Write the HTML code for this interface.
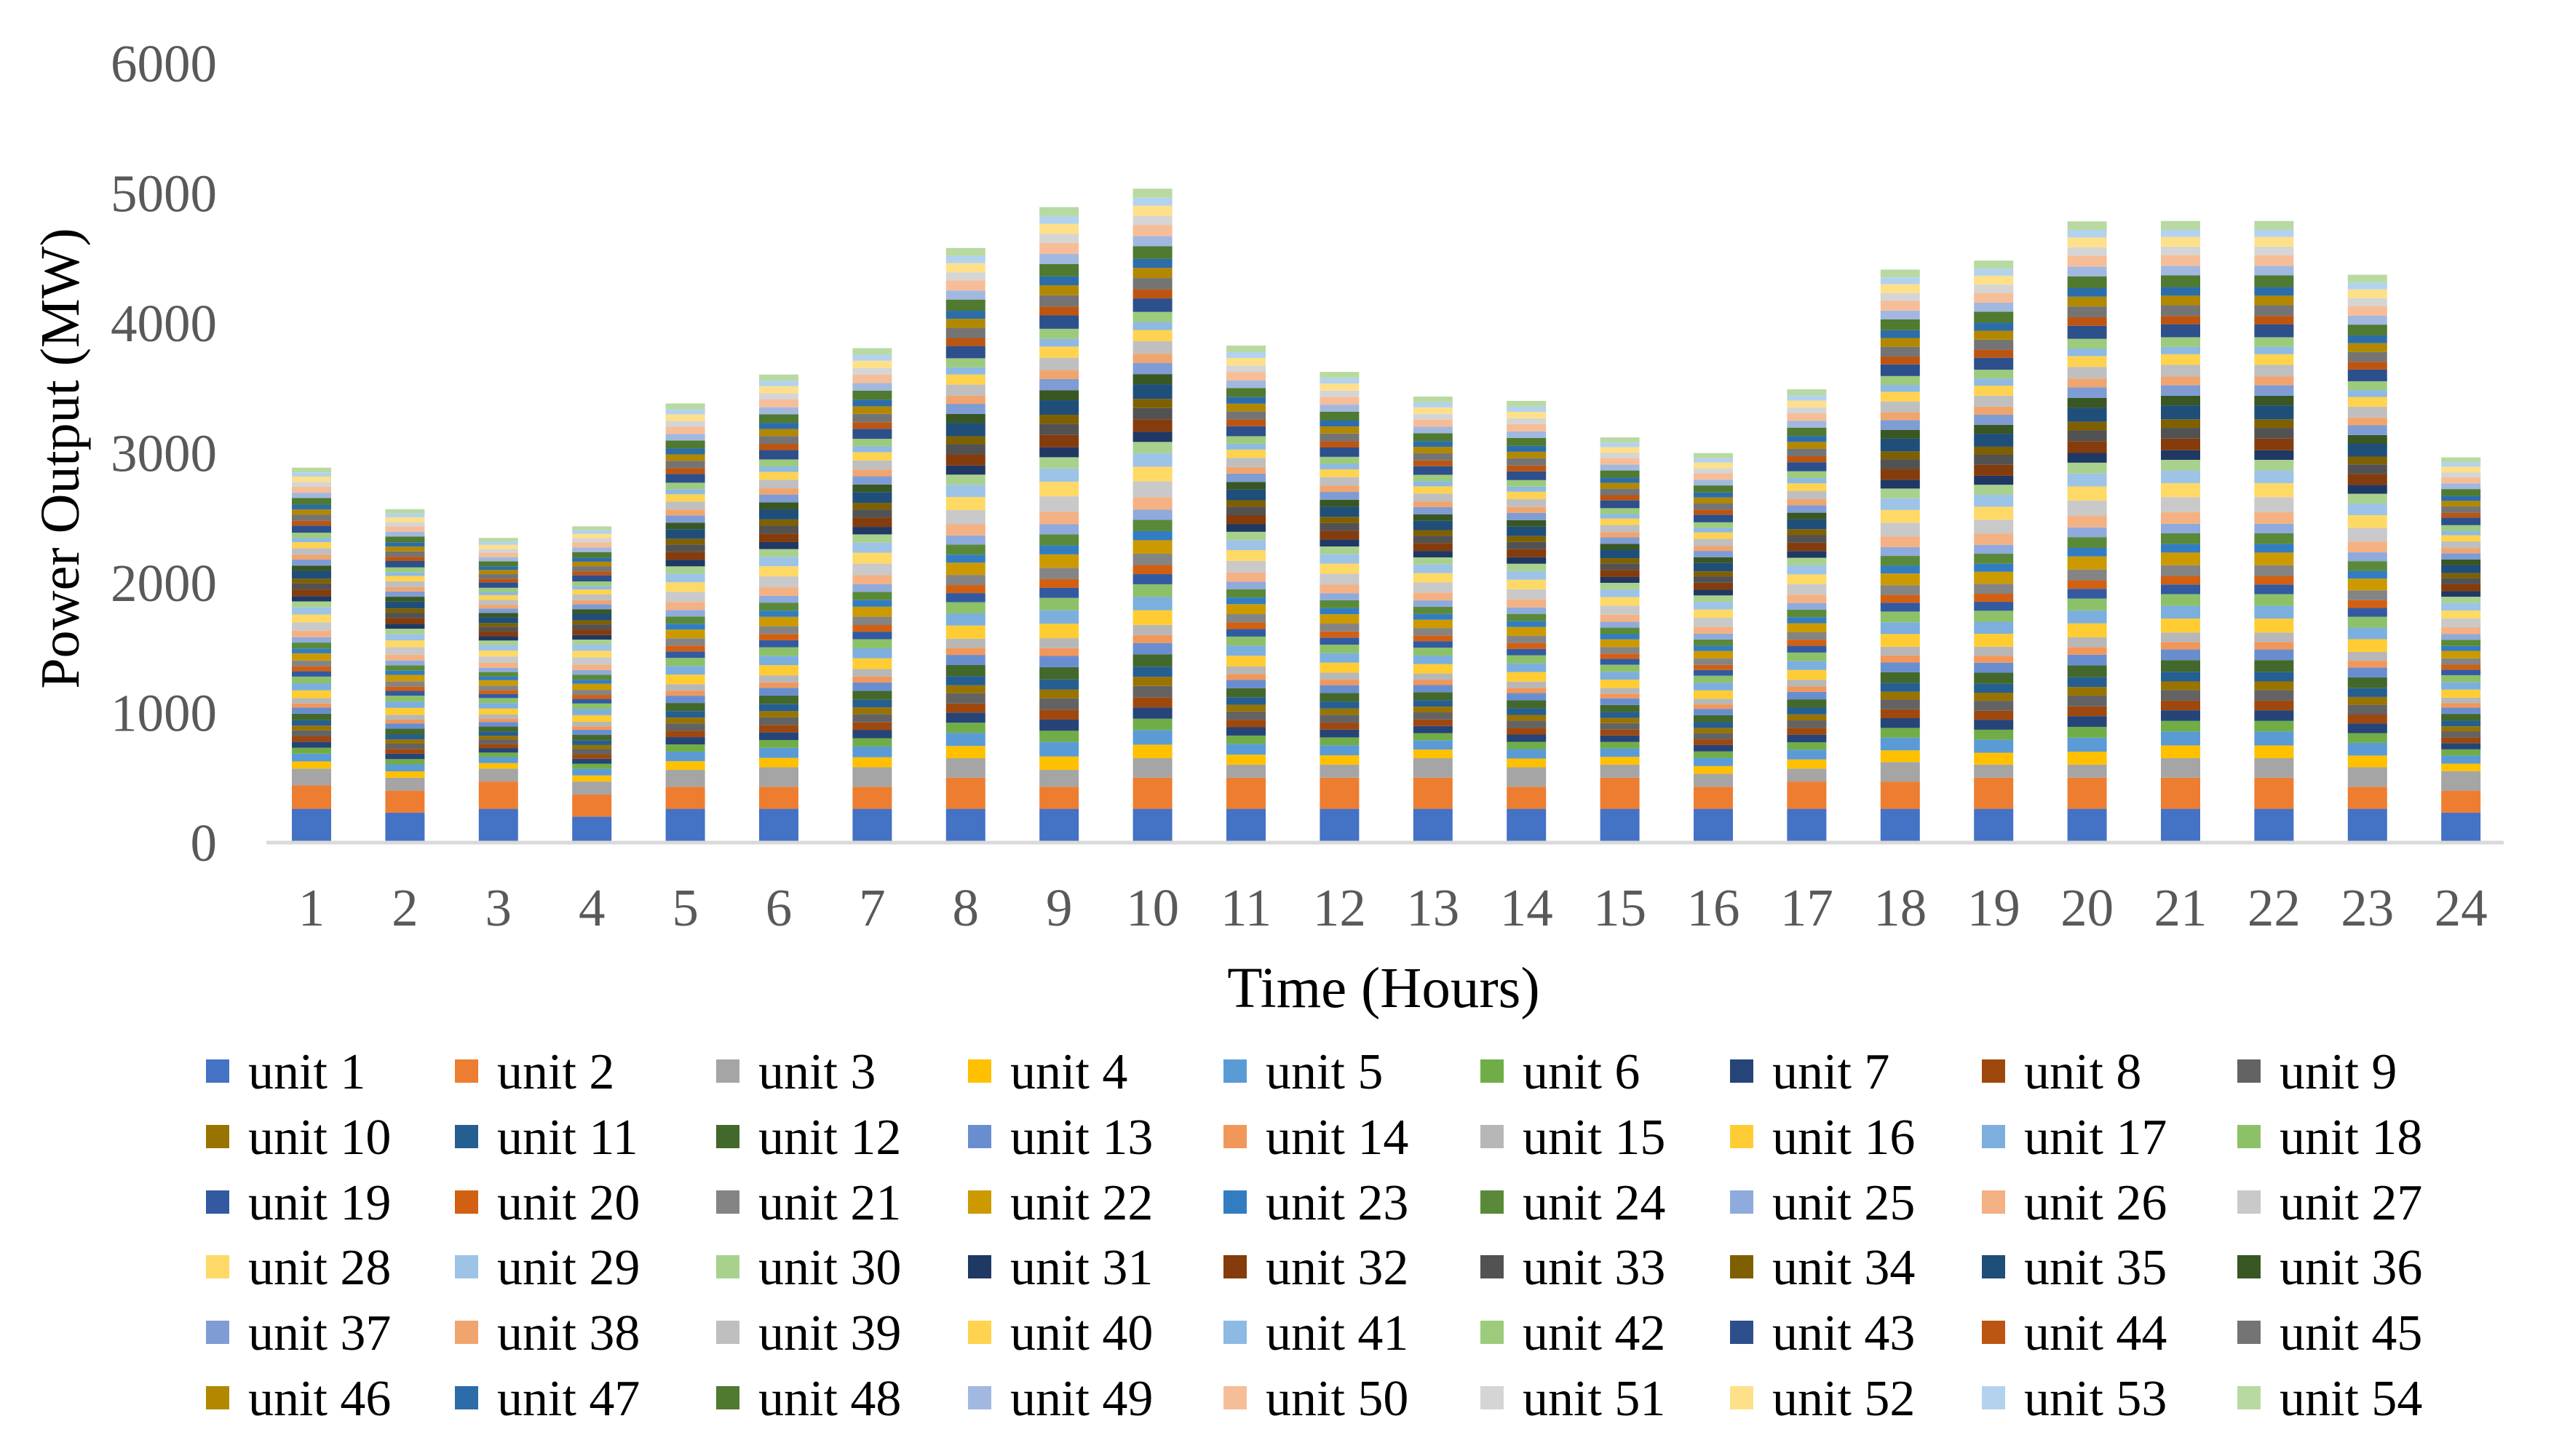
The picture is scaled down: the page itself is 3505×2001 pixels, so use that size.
<!DOCTYPE html>
<html><head><meta charset="utf-8"><style>
html,body{margin:0;padding:0;background:#fff;}
svg{display:block;}
text{font-family:"Liberation Serif",serif;}
</style></head><body>
<svg id="chart" width="3505" height="2001" viewBox="0 0 3505 2001" xmlns="http://www.w3.org/2000/svg">
<g id="yticks"></g>
<g id="bars"></g>
<line x1="366" y1="1158" x2="3440" y2="1158" stroke="#D9D9D9" stroke-width="5"/>
<g id="xticks"></g>
<text x="0" y="0" transform="translate(108,630) rotate(-90)" text-anchor="middle" font-size="76" fill="#000">Power Output (MW)</text>
<text x="1901" y="1384" text-anchor="middle" font-size="79" fill="#000">Time (Hours)</text>
<g id="legend"></g>
</svg>
<script>
const hours = ["1","2","3","4","5","6","7","8","9","10","11","12","13","14","15","16","17","18","19","20","21","22","23","24"];
const yTicks = [0,1000,2000,3000,4000,5000,6000];
const unitNames = Array.from({length:54},(_,i)=>"unit "+(i+1));
const unitColors = ["#4472C4","#ED7D31","#A5A5A5","#FFC000","#5B9BD5","#70AD47","#264478","#9E480E","#636363","#997300","#255E91","#43682B","#698ED0","#F1975A","#B7B7B7","#FFCD33","#7CAFDD","#8CC168","#335AA1","#D26012","#848484","#CC9A00","#327DC2","#5A8A39","#8FAADC","#F4B183","#C9C9C9","#FFD966","#9DC3E6","#A9D18E","#203864","#843C0C","#525252","#7F6000","#1F4E79","#385723","#7F9CD4","#F0A56E","#BFBFBF","#FFD34F","#8DB9E2","#9CCB7C","#2D4F8C","#BC5511","#747474","#B28800","#2C6DA9","#4F7A30","#A2B8E0","#F6BE98","#D5D5D5","#FFE08A","#B3D2EE","#B8DAA2"];
const h1=[260,180,130,55,60,46,46,41,46,37,41,51,46,32,41,60,55,51,41,37,46,55,37,46,41,51,64,60,55,46,41,51,46,37,60,41,46,37,51,46,32,41,55,37,46,41,37,51,41,46,37,41,32,37];
const h2=[230,170,100,49,53,41,41,37,41,33,37,45,41,29,37,53,49,45,37,33,41,49,33,41,37,45,57,53,49,41,37,45,41,33,53,37,41,33,45,41,29,37,49,33,41,37,33,45,37,41,33,37,29,33];
const h3=[260,210,100,42,46,35,35,32,35,28,32,39,35,25,32,46,42,39,32,28,35,42,28,35,32,39,49,46,42,35,32,39,35,28,46,32,35,28,39,35,25,32,42,28,35,32,28,39,32,35,28,32,25,28];
const h4=[200,170,100,47,51,39,39,35,39,31,35,43,39,27,35,51,47,43,35,31,39,47,31,39,35,43,55,51,47,39,35,43,39,31,51,35,39,31,43,39,27,35,47,31,39,35,31,43,35,39,31,35,27,31];
const h5=[260,170,130,67,73,56,56,50,56,45,50,62,56,39,50,73,67,62,50,45,56,67,45,56,50,62,78,73,67,56,50,62,56,45,73,50,56,45,62,56,39,50,67,45,56,50,45,62,50,56,45,50,39,45];
const h6=[260,170,150,72,78,60,60,54,60,48,54,66,60,42,54,78,72,66,54,48,60,72,48,60,54,66,84,78,72,60,54,66,60,48,78,54,60,48,66,60,42,54,72,48,60,54,48,66,54,60,48,54,42,48];
const h7=[260,170,150,77,83,64,64,58,64,51,58,70,64,45,58,83,77,70,58,51,64,77,51,64,58,70,90,83,77,64,58,70,64,51,83,58,64,51,70,64,45,58,77,51,64,58,51,70,58,64,51,58,45,51];
const h8=[260,240,150,94,101,78,78,70,78,62,70,86,78,55,70,101,94,86,70,62,78,94,62,78,70,86,109,101,94,78,70,86,78,62,101,70,78,62,86,78,55,70,94,62,78,70,62,86,70,78,62,70,55,62];
const h9=[260,170,130,103,112,86,86,77,86,69,77,95,86,60,77,112,103,95,77,69,86,103,69,86,77,95,120,112,103,86,77,95,86,69,112,77,86,69,95,86,60,77,103,69,86,77,69,95,77,86,69,77,60,69];
const h10=[260,240,150,104,113,87,87,78,87,70,78,96,87,61,78,113,104,96,78,70,87,104,70,87,78,96,122,113,104,87,78,96,87,70,113,78,87,70,96,87,61,78,104,70,87,78,70,96,78,87,70,78,61,70];
const h11=[260,240,100,77,83,64,64,58,64,51,58,70,64,45,58,83,77,70,58,51,64,77,51,64,58,70,90,83,77,64,58,70,64,51,83,58,64,51,70,64,45,58,77,51,64,58,51,70,58,64,51,58,45,51];
const h12=[260,240,100,72,78,60,60,54,60,48,54,66,60,42,54,78,72,66,54,48,60,72,48,60,54,66,84,78,72,60,54,66,60,48,78,54,60,48,66,60,42,54,72,48,60,54,48,66,54,60,48,54,42,48];
const h13=[260,240,150,66,72,55,55,50,55,44,50,61,55,39,50,72,66,61,50,44,55,66,44,55,50,61,77,72,66,55,50,61,55,44,72,50,55,44,61,55,39,50,66,44,55,50,44,61,50,55,44,50,39,44];
const h14=[260,170,150,67,73,56,56,50,56,45,50,62,56,39,50,73,67,62,50,45,56,67,45,56,50,62,78,73,67,56,50,62,56,45,73,50,56,45,62,56,39,50,67,45,56,50,45,62,50,56,45,50,39,45];
const h15=[260,240,100,60,65,50,50,45,50,40,45,55,50,35,45,65,60,55,45,40,50,60,40,50,45,55,70,65,60,50,45,55,50,40,65,45,50,40,55,50,35,45,60,40,50,45,40,55,45,50,40,45,35,40];
const h16=[260,170,100,59,64,49,49,44,49,39,44,54,49,34,44,64,59,54,44,39,49,59,39,49,44,54,69,64,59,49,44,54,49,39,64,44,49,39,54,49,34,44,59,39,49,44,39,54,44,49,39,44,34,39];
const h17=[260,210,100,70,75,58,58,52,58,46,52,64,58,41,52,75,70,64,52,46,58,70,46,58,52,64,81,75,70,58,52,64,58,46,75,52,58,46,64,58,41,52,70,46,58,52,46,64,52,58,46,52,41,46];
const h18=[260,210,150,90,98,75,75,68,75,60,68,83,75,53,68,98,90,83,68,60,75,90,60,75,68,83,105,98,90,75,68,83,75,60,98,68,75,60,83,75,53,68,90,60,75,68,60,83,68,75,60,68,53,60];
const h19=[260,240,100,92,100,77,77,69,77,62,69,85,77,54,69,100,92,85,69,62,77,92,62,77,69,85,108,100,92,77,69,85,77,62,100,69,77,62,85,77,54,69,92,62,77,69,62,85,69,77,62,69,54,62];
const h20=[260,240,100,100,108,83,83,75,83,66,75,91,83,58,75,108,100,91,75,66,83,100,66,83,75,91,116,108,100,83,75,91,83,66,108,75,83,66,91,83,58,75,100,66,83,75,66,91,75,83,66,75,58,66];
const h21=[260,240,150,98,107,82,82,74,82,66,74,90,82,57,74,107,98,90,74,66,82,98,66,82,74,90,115,107,98,82,74,90,82,66,107,74,82,66,90,82,57,74,98,66,82,74,66,90,74,82,66,74,57,66];
const h22=[260,240,150,98,107,82,82,74,82,66,74,90,82,57,74,107,98,90,74,66,82,98,66,82,74,90,115,107,98,82,74,90,82,66,107,74,82,66,90,82,57,74,98,66,82,74,66,90,74,82,66,74,57,66];
const h23=[260,170,150,90,98,75,75,68,75,60,68,83,75,53,68,98,90,83,68,60,75,90,60,75,68,83,105,98,90,75,68,83,75,60,98,68,75,60,83,75,53,68,90,60,75,68,60,83,68,75,60,68,53,60];
const h24=[230,170,150,58,62,48,48,43,48,38,43,53,48,34,43,62,58,53,43,38,48,58,38,48,43,53,67,62,58,48,43,53,48,38,62,43,48,38,53,48,34,43,58,38,48,43,38,53,43,48,38,43,34,38];
const outputByHour=[h1,h2,h3,h4,h5,h6,h7,h8,h9,h10,h11,h12,h13,h14,h15,h16,h17,h18,h19,h20,h21,h22,h23,h24];

const NS="http://www.w3.org/2000/svg";
const Y0=1158, YTOP=87, YMAX=6000;
const X0=428, XSTEP=128.4, BW=54;
function yScale(v){return Y0-v*(Y0-YTOP)/YMAX;}
function xScale(i){return X0+i*XSTEP;}
function mk(tag,attrs,parent){const e=document.createElementNS(NS,tag);for(const k in attrs)e.setAttribute(k,attrs[k]);parent.appendChild(e);return e;}

const yt=document.getElementById('yticks');
yTicks.forEach(v=>{
  const t=mk('text',{x:298,y:yScale(v)+25,'text-anchor':'end','font-size':73,fill:'#595959'},yt);
  
  
  t.textContent=String(v);
});
const xt=document.getElementById('xticks');
hours.forEach((h,i)=>{
  const t=mk('text',{x:xScale(i),y:1272,'text-anchor':'middle','font-size':73,fill:'#595959'},xt);
  
  
  t.textContent=h;
});
const bars=document.getElementById('bars');
outputByHour.forEach((row,i)=>{
  let cum=0;
  row.forEach((v,u)=>{
    if(v<=0)return;
    const y1=yScale(cum+v), y2=yScale(cum);
    const r=mk('rect',{x:xScale(i)-BW/2,y:y1,width:BW,height:y2-y1,fill:unitColors[u]},bars);
    
    
    cum+=v;
  });
});
const lg=document.getElementById('legend');
const colX=[283,625,984,1330,1681,2034,2377,2723,3074];
const rowY=[1472,1562,1652,1741,1831,1921];
unitNames.forEach((n,k)=>{
  const r=Math.floor(k/9), c=k%9;
  const g=mk('g',{},lg);
  
  
  mk('rect',{x:colX[c],y:rowY[r]-16,width:32,height:32,fill:unitColors[k]},g);
  const t=mk('text',{x:colX[c]+58,y:rowY[r]+24,'font-size':70,fill:'#000'},g);
  t.textContent=n;
});
</script>
</body></html>
